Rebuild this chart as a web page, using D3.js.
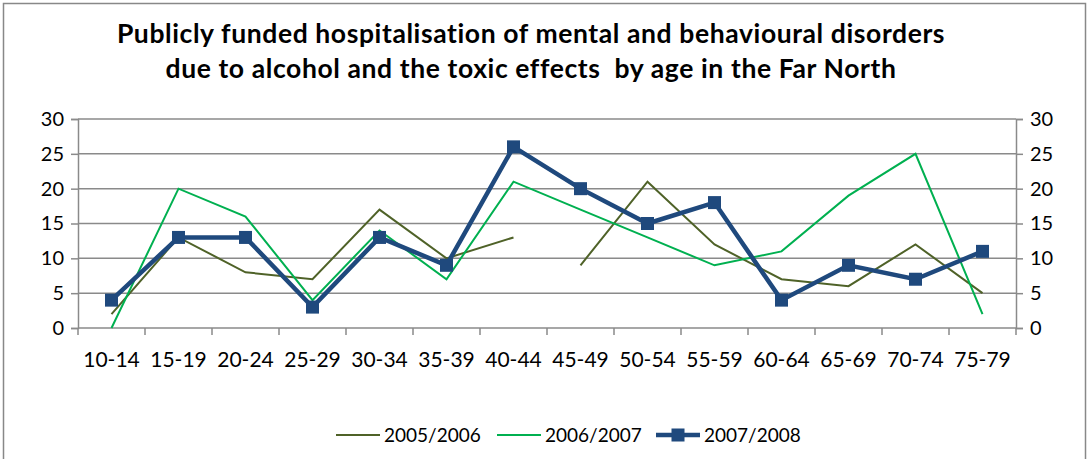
<!DOCTYPE html>
<html>
<head>
<meta charset="utf-8">
<script src="https://cdn.jsdelivr.net/npm/d3@7"></script>
<style>
  body { margin: 0; background: #fff; }
  svg text { font-family: Lato, "Open Sans", sans-serif; fill: #000; }
</style>
</head>
<body>
<svg id="chart" width="1089" height="459"></svg>
<script>
// Age groups along the x axis
const ageGroups = ["10-14", "15-19", "20-24", "25-29", "30-34", "35-39", "40-44",
                   "45-49", "50-54", "55-59", "60-64", "65-69", "70-74", "75-79"];

// Series values
const s2005 = [2, 13, 8, 7, 17, 10, 13, 9, 21, 12, 7, 6, 12, 5];
const s2006 = [0, 20, 16, 4, 14, 7, 21, 17, 13, 9, 11, 19, 25, 2];
const s2007 = [4, 13, 13, 3, 13, 9, 26, 20, 15, 18, 4, 9, 7, 11];

// the 2005/2006 line is broken between these two groups in the original
const gap2005 = ["40-44", "45-49"];

const yTicks = [0, 5, 10, 15, 20, 25, 30];

const series = [
    { name: "2005/2006", values: s2005, color: "#4F6228", width: 2, marker: false, gap: gap2005 },
    { name: "2006/2007", values: s2006, color: "#00B050", width: 2, marker: false },
    { name: "2007/2008", values: s2007, color: "#1F497D", width: 4.5, marker: true }
];

const svg = d3.select("#chart");
const margin = { left: 78, right: 1016, top: 119, bottom: 328 };

// outer chart border
svg.append("rect")
    .attr("x", 3.5).attr("y", 3.5)
    .attr("width", 1082).attr("height", 470)
    .attr("fill", "none")
    .attr("stroke", "#888")
    .attr("stroke-width", 1.5);

// title
const title = svg.append("text")
    .attr("text-anchor", "middle")
    .style("font-weight", "bold")
    .style("font-size", "26.5px")
    .style("letter-spacing", "0.6px");
title.append("tspan").attr("x", 531).attr("y", 43)
    .text("Publicly funded hospitalisation of mental and behavioural disorders");
title.append("tspan").attr("x", 531).attr("y", 78)
    .text("due to alcohol and the toxic effects  by age in the Far North")
    .style("white-space", "pre");

const x = d3.scaleBand()
    .domain(ageGroups)
    .range([margin.left, margin.right]);

const y = d3.scaleLinear()
    .domain([0, 30])
    .range([margin.bottom, margin.top]);

// gridlines
svg.append("g")
    .selectAll("line")
    .data(yTicks.slice(1))
    .enter()
    .append("line")
    .attr("x1", margin.left).attr("x2", margin.right)
    .attr("y1", d => y(d)).attr("y2", d => y(d))
    .attr("stroke", "#8a8a8a")
    .attr("stroke-width", 1.5);

// axes
const leftAxis = svg.append("g")
    .attr("transform", `translate(${margin.left},0)`)
    .call(d3.axisLeft(y).tickValues(yTicks).tickSize(7).tickPadding(7));

const rightAxis = svg.append("g")
    .attr("transform", `translate(${margin.right},0)`)
    .call(d3.axisRight(y).tickValues(yTicks).tickSize(7).tickPadding(7));

const bottomAxis = svg.append("g")
    .attr("transform", `translate(0,${margin.bottom})`)
    .call(d3.axisBottom(x).tickSize(0).tickPadding(24));

// tick marks at the category boundaries
bottomAxis.selectAll(".boundary")
    .data(ageGroups.concat(["end"]))
    .enter()
    .append("line")
    .attr("class", "boundary")
    .attr("x1", (d, i) => margin.left + i * x.bandwidth())
    .attr("x2", (d, i) => margin.left + i * x.bandwidth())
    .attr("y1", 0).attr("y2", 7)
    .attr("stroke", "#8a8a8a")
    .attr("stroke-width", 1.5);

[leftAxis, rightAxis, bottomAxis].forEach(ax => {
    ax.select(".domain").attr("stroke", "#8a8a8a").attr("stroke-width", 1.5);
    ax.selectAll(".tick line").attr("stroke", "#8a8a8a").attr("stroke-width", 1.5);
    ax.selectAll("text")
        .style("font-family", "Lato, 'Open Sans', sans-serif")
        .style("font-size", "20px")
        .attr("fill", "#000");
});
bottomAxis.selectAll("text").style("font-size", "21px");
bottomAxis.select(".domain").attr("d", `M${margin.left},0H${margin.right}`);

// lines
const cx = d => x(d) + x.bandwidth() / 2;

series.forEach(s => {
    const pts = ageGroups.map((g, i) => ({ g, v: s.values[i] }));
    let segments = [pts];
    if (s.gap) {
        const cut = ageGroups.indexOf(s.gap[1]);
        segments = [pts.slice(0, cut), pts.slice(cut)];
    }
    const line = d3.line()
        .x(d => cx(d.g))
        .y(d => y(d.v));

    segments.forEach(seg => {
        svg.append("path")
            .datum(seg)
            .attr("d", line)
            .attr("fill", "none")
            .attr("stroke", s.color)
            .attr("stroke-width", s.width)
            .attr("stroke-linejoin", "miter");
    });

    if (s.marker) {
        svg.append("g")
            .selectAll("rect")
            .data(pts)
            .enter()
            .append("rect")
            .attr("x", d => cx(d.g) - 6.5)
            .attr("y", d => y(d.v) - 6.5)
            .attr("width", 13).attr("height", 13)
            .attr("fill", s.color);
    }
});

// legend
const legendX = [336, 497, 656];
const legend = svg.append("g")
    .selectAll("g")
    .data(series)
    .enter()
    .append("g")
    .attr("transform", (d, i) => `translate(${legendX[i]},435)`);

legend.append("line")
    .attr("x1", 0).attr("x2", 44)
    .attr("stroke", d => d.color)
    .attr("stroke-width", d => d.width);

legend.filter(d => d.marker)
    .append("rect")
    .attr("x", 22 - 6.5).attr("y", -6.5)
    .attr("width", 13).attr("height", 13)
    .attr("fill", d => d.color);

legend.append("text")
    .attr("x", 48)
    .attr("dy", "0.35em")
    .style("font-size", "19px")
    .text(d => d.name);
</script>
</body>
</html>
